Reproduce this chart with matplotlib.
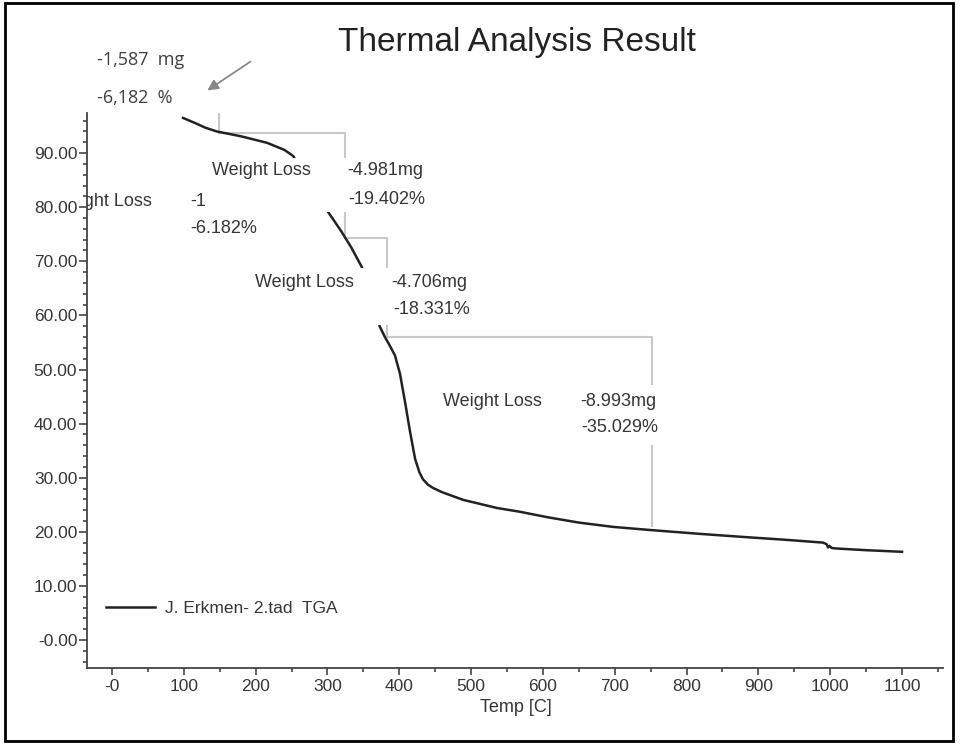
import matplotlib
matplotlib.use('Agg')
import matplotlib.pyplot as plt
import matplotlib.patches as mpatches
from matplotlib.ticker import FixedLocator, MultipleLocator

# TGA curve, mass % vs temperature
temp = [99, 115, 130, 146, 180, 216, 240, 252, 275, 301, 318, 333, 348, 360, 373, 380,
        386, 394, 401, 408, 415, 422, 428, 433, 440, 447, 460, 489, 536, 568, 606,
        650, 698, 752, 820, 884, 940, 990, 995, 997, 999, 1002, 1010, 1050, 1100]
mass = [96.5, 95.6, 94.7, 94.0, 93.1, 91.9, 90.6, 89.5, 85.0, 79.1, 75.8, 72.6, 68.9, 63.5, 57.9, 56.0,
        54.6, 52.6, 49.2, 44.0, 38.5, 33.5, 31.0, 29.7, 28.7, 28.1, 27.3, 25.9, 24.4, 23.7, 22.7,
        21.7, 20.9, 20.3, 19.6, 19.0, 18.5, 18.0, 17.7, 17.1, 17.4, 17.0, 16.9, 16.6, 16.3]

# weight loss steps (start/end temperature, loss in mg and %)
step_start = [149, 324, 383]
step_end = [324, 383, 752]
loss_mg = ['-4.981mg', '-4.706mg', '-8.993mg']
loss_pct = [19.402, 18.331, 35.029]
first_loss_pct = 6.182
first_loss_mg = '-1'
start_level = 93.8

xticks = [0, 100, 200, 300, 400, 500, 600, 700, 800, 900, 1000, 1100]
xlabels = ['-0', '100', '200', '300', '400', '500', '600', '700', '800', '900', '1000', '1100']
yticks = [0, 10, 20, 30, 40, 50, 60, 70, 80, 90]
ylabels = ['-0.00', '10.00', '20.00', '30.00', '40.00', '50.00', '60.00', '70.00', '80.00', '90.00']

plt.rcParams['font.family'] = ['Liberation Sans', 'DejaVu Sans']
txt_col = '#363636'
brk_col = '#c8c8c8'

fig = plt.figure(figsize=(9.6, 7.44), dpi=100)
ax = fig.add_axes([0.0906, 0.102, 0.8917, 0.746])

ax.plot(temp, mass, color='#222222', lw=1.8, zorder=2, label='J. Erkmen- 2.tad  TGA')

# bracket lines between steps
level = start_level
ax.plot([step_start[0], step_start[0]], [start_level + first_loss_pct, start_level],
        color=brk_col, lw=1.5, zorder=1)
for s, e, p in zip(step_start, step_end, loss_pct):
    ax.plot([s, e, e], [level, level, level - p], color=brk_col, lw=1.5, zorder=1)
    level -= p

# white label areas
for x0, x1, y0, y1 in [(130, 446, 79.1, 89.1), (189, 499, 58.2, 68.8), (451, 770, 36.0, 47.1)]:
    ax.add_patch(mpatches.Rectangle((x0, y0), x1 - x0, y1 - y0, facecolor='white',
                                    edgecolor='none', zorder=3))

fs = 13
kw = dict(fontsize=fs, color=txt_col, va='center', ha='left', zorder=4)
ax.text(-82, 81.0, 'Weight Loss', clip_on=True, **kw)
ax.text(109, 81.0, first_loss_mg, **kw)
ax.text(109, 76.0, '-%.3f%%' % first_loss_pct, **kw)

label_pos = [(139, 327, 86.7, 81.5), (199, 389, 66.0, 61.0), (461, 652, 44.0, 39.2)]
for (wx, vx, y1, y2), mg, p in zip(label_pos, loss_mg, loss_pct):
    ax.text(wx, y1, 'Weight Loss', **kw)
    ax.text(vx, y1, mg, **kw)
    ax.text(vx + 2, y2, '-%.3f%%' % p, **kw)

# note above the plot
note_kw = dict(fontsize=13, color='#404040', va='center', ha='left',
               family=['Open Sans', 'DejaVu Sans'], clip_on=False)
ax.text(-21, 107.2, '-1,587  mg', **note_kw)
ax.text(-21, 100.2, '-6,182  %', **note_kw)
ax.annotate('', xy=(129.5, 101.3), xytext=(196, 107.2), annotation_clip=False,
            arrowprops=dict(arrowstyle='-|>', color='#888888', lw=1.3, mutation_scale=16))

ax.set_xlim(-34.8, 1157)
ax.set_ylim(-5.2, 97.4)
ax.xaxis.set_major_locator(FixedLocator(xticks))
ax.set_xticklabels(xlabels)
ax.xaxis.set_minor_locator(FixedLocator([50 + 100 * i for i in range(12)]))
ax.yaxis.set_major_locator(FixedLocator(yticks))
ax.set_yticklabels(ylabels)
ax.yaxis.set_minor_locator(MultipleLocator(2))

for side in ['top', 'right']:
    ax.spines[side].set_visible(False)
for side in ['left', 'bottom']:
    ax.spines[side].set_color('#444444')
    ax.spines[side].set_linewidth(1.3)
ax.tick_params(axis='both', which='major', labelsize=12.5, colors='#444444',
               labelcolor=txt_col, width=1.2)
ax.tick_params(axis='y', which='major', length=6, pad=1)
ax.tick_params(axis='x', which='major', length=5, pad=3)
ax.tick_params(axis='both', which='minor', length=3, width=1.2, colors='#444444')

ax.legend(loc='center left', bbox_to_anchor=(0.012, 0.108), frameon=False,
          fontsize=12.5, handlelength=2.8, handletextpad=0.6, borderpad=0,
          labelcolor=txt_col)

fig.text(517 / 960, 1 - 42 / 744, 'Thermal Analysis Result', fontsize=24,
         ha='center', va='center', color='#222222')
fig.text(516 / 960, 1 - 707 / 744, 'Temp [C]', fontsize=13, ha='center',
         va='center', color=txt_col)

fig.patches.append(mpatches.Rectangle((0.005, 0.004), 0.988, 0.992, transform=fig.transFigure,
                                      fill=False, edgecolor='black', lw=2))

fig.savefig('out.png', dpi=100)
